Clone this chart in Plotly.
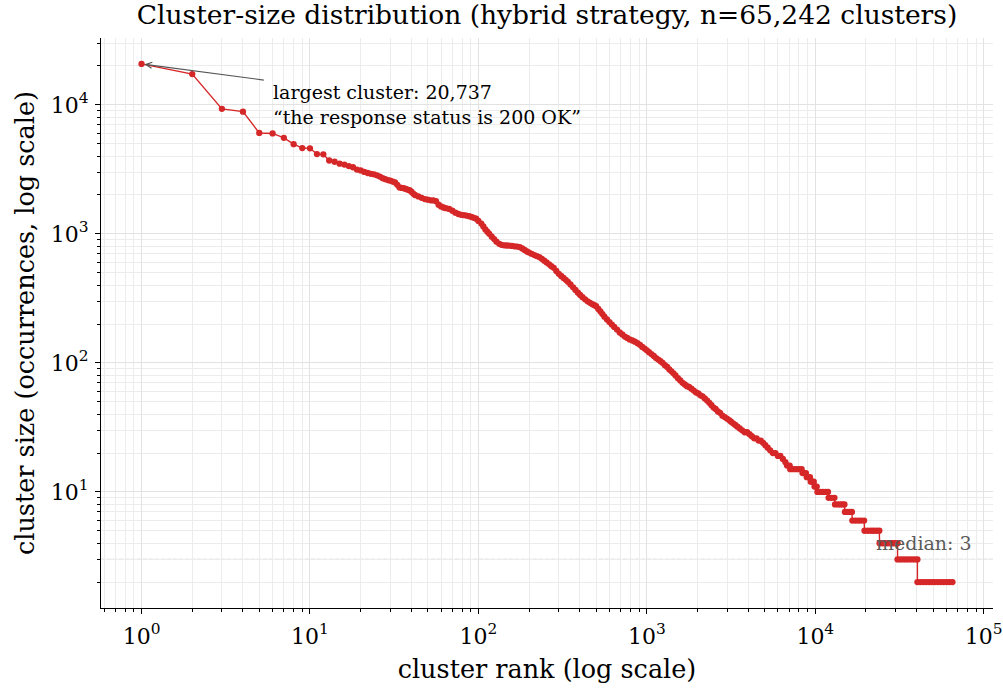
import math
import plotly.graph_objects as go

# ---- data (rank -> cluster size) ----
rank_head = [1, 2, 3, 4, 5, 6, 7, 8, 9, 10, 11, 12, 13, 14, 15, 16]
size_head = [20737, 17300, 9300, 8850, 6050, 6000, 5550, 4950, 4620, 4600,
             4150, 4130, 3700, 3620, 3500, 3440]

rank_body = [17, 18, 19, 20, 21, 22, 23, 24, 25, 26, 27, 28, 29, 30,
             31, 32, 33, 34, 35, 36, 37, 38, 39, 40, 41, 42, 44, 46, 48, 50,
             52, 54, 56, 58, 60, 62, 64, 67, 70, 73, 76, 79, 82, 85, 88, 91,
             94, 97, 100, 104, 107, 110, 113, 116, 120, 124, 128, 133, 137,
             142, 147, 152, 158, 164, 170, 176, 182, 188, 194, 200, 207, 215,
             222, 230, 238, 246, 254, 263, 271, 280, 290, 300, 310, 320, 330,
             340, 352, 365, 377, 390, 402, 415, 430, 445, 460, 475, 488, 500,
             515, 530, 545, 560, 580, 600, 620, 640, 665, 690, 715, 740, 765,
             790, 820, 850, 880, 910, 940, 970, 1000, 1030, 1065, 1100, 1135,
             1170, 1205, 1240, 1280, 1320, 1360, 1400, 1440, 1480, 1530, 1580,
             1630, 1680, 1730, 1780, 1840, 1900, 1960, 2020, 2080, 2140, 2210,
             2280, 2350, 2420, 2490, 2560, 2640, 2720, 2810, 2900, 2990, 3080,
             3160, 3250, 3350, 3450, 3560, 3680, 3810, 3940, 4070, 4200, 4340,
             4480, 4610, 4750, 4900, 5050, 5220, 5400, 5600, 5800, 6000, 6200,
             6420, 6650]
size_body = [3350, 3280, 3150, 3100, 3020, 2960, 2920, 2890, 2840, 2780, 2700,
             2650, 2610, 2580,
             2540, 2500, 2400, 2290, 2270, 2260, 2230, 2200, 2180, 2120, 2050,
             2000, 1950, 1900, 1860, 1840,
             1820, 1815, 1790, 1680, 1630, 1600, 1580, 1560, 1510, 1460, 1425,
             1405, 1395, 1385, 1370, 1350,
             1330, 1310, 1260, 1200, 1140, 1080, 1040, 1000, 950, 910, 870,
             836, 822,
             815, 812, 811, 806, 800, 796, 790, 770, 750, 730, 715, 700, 685,
             672, 660, 640, 620, 600, 580, 562, 545, 515, 490, 472, 455, 440,
             425, 405, 385, 367, 350, 336, 323, 311, 300, 292, 285, 280, 275,
             262, 250, 239, 228, 217, 207, 198, 190, 181, 172, 166, 160, 156,
             152, 149, 146, 142, 138, 133, 129, 125, 121, 117, 113, 109,
             106, 103, 100, 96, 93, 89, 86, 83, 80, 76, 73,
             70, 68, 66, 65, 63, 61, 59, 58, 56, 55, 53,
             51, 49, 47, 45, 44, 42, 41, 39, 38, 37, 36,
             35, 34, 33, 32, 31, 30, 29, 29, 28, 27, 26,
             26, 25, 25, 24, 23, 22, 21, 20, 20, 19, 19,
             18, 17]

rank_tail = [6800, 7050,
             7100, 7400, 7700, 8000, 8300,
             8400, 8600, 8800,
             8900, 9100, 9300,
             9400, 9600, 9800,
             9900, 10050, 10200,
             10300, 10700, 11100, 11500, 11900,
             12000, 12500, 13000,
             13100, 13600, 14100, 14500, 14900,
             15000, 15500, 16000, 16500,
             16600, 17300, 18000, 18700, 19500,
             19600, 20500, 21400, 22200, 23100, 24000,
             24100, 25000, 26000, 27000, 28000, 29000, 30000, 30800,
             30801, 32000, 33300, 34600, 36000, 37500, 39000, 40400,
             40401, 42000, 43700, 45500, 47400, 49300, 51300, 53400, 55600,
             57900, 60300, 62700, 65242]
size_tail = [16, 16,
             15, 15, 15, 15, 15,
             14, 14, 14,
             13, 13, 13,
             12, 12, 12,
             11, 11, 11,
             10, 10, 10, 10, 10,
             9, 9, 9,
             8, 8, 8, 8, 8,
             7, 7, 7, 7,
             6, 6, 6, 6, 6,
             5, 5, 5, 5, 5, 5,
             4, 4, 4, 4, 4, 4, 4, 4,
             3, 3, 3, 3, 3, 3, 3, 3,
             2, 2, 2, 2, 2, 2, 2, 2, 2, 2, 2, 2, 2]

ranks = rank_head + rank_body + rank_tail
sizes = size_head + size_body + size_tail

largest_size = 20737
largest_text = "largest cluster: 20,737<br>“the response status is 200 OK”"
median_size = 3

x_tick_vals = [1, 10, 100, 1000, 10000, 100000]
x_tick_text = ["10<sup>0</sup>", "10<sup>1</sup>", "10<sup>2</sup>",
               "10<sup>3</sup>", "10<sup>4</sup>", "10<sup>5</sup>"]
y_tick_vals = [10, 100, 1000, 10000]
y_tick_text = ["10<sup>1</sup>", "10<sup>2</sup>", "10<sup>3</sup>", "10<sup>4</sup>"]

FONT = "DejaVu Serif"
RED = "#d62728"
GRID = "#e2e2e2"
GRID_MINOR = "#ececec"

minor_vals = [m * 10 ** e for e in range(-1, 6) for m in range(2, 10)]

fig = go.Figure()
fig.add_trace(go.Scatter(
    x=ranks, y=sizes, mode="lines+markers",
    line=dict(color=RED, width=1.4),
    marker=dict(color=RED, size=6.3, line=dict(width=0)),
    showlegend=False, hoverinfo="x+y",
))

fig.add_shape(type="line", xref="paper", x0=0, x1=1, yref="y",
              y0=median_size, y1=median_size,
              line=dict(color="#8a8a8a", width=1, dash="4px,2px"),
              layer="between")

# arrow to the largest cluster (annotation coords are log10 on log axes)
fig.add_annotation(x=math.log10(ranks[0]), y=math.log10(largest_size),
                   xref="x", yref="y", axref="x", ayref="y",
                   ax=0.735, ay=4.19, text="", showarrow=True,
                   arrowhead=5, arrowsize=1.1, arrowwidth=1.1,
                   arrowcolor="#555555", standoff=3)
fig.add_annotation(x=0.770, y=4.20, xref="x", yref="y",
                   text=largest_text, showarrow=False,
                   xanchor="left", yanchor="top", align="left",
                   font=dict(family=FONT, size=19, color="black"))
fig.add_annotation(x=0.979, xref="paper", y=math.log10(median_size), yref="y",
                   text="median: " + str(median_size), showarrow=False,
                   xanchor="right", yanchor="bottom", yshift=3,
                   font=dict(family=FONT, size=19, color="#5a5a5a"))

axis_common = dict(
    type="log", showline=True, linecolor="black", linewidth=1.2, mirror=False,
    ticks="outside", ticklen=5, tickwidth=1, tickcolor="black",
    showgrid=True, gridcolor=GRID, gridwidth=1, zeroline=False,
    automargin=False,
    tickfont=dict(family=FONT, size=22, color="black"),
    minor=dict(tickmode="array", tickvals=minor_vals, ticks="outside",
               ticklen=3, tickwidth=0.8, tickcolor="black",
               showgrid=True, gridcolor=GRID_MINOR, gridwidth=1),
)

fig.update_layout(
    width=1003, height=690,
    margin=dict(l=101, r=10, t=38, b=82, autoexpand=False),
    paper_bgcolor="white", plot_bgcolor="white",
    font=dict(family=FONT, color="black"),
    title=dict(text="Cluster-size distribution (hybrid strategy, n=65,242 clusters)",
               x=0.5, xref="paper", xanchor="center", y=1 - 15 / 690,
               yref="container", yanchor="middle",
               font=dict(family=FONT, size=26.5, color="black")),
    xaxis=dict(axis_common, range=[-0.2407, 5.0552],
               tickmode="array", tickvals=x_tick_vals, ticktext=x_tick_text,
               ticklabelstandoff=3,
               title=dict(text="cluster rank (log scale)", standoff=12,
                          font=dict(family=FONT, size=25.5, color="black"))),
    yaxis=dict(axis_common, range=[0.1003, 4.5177],
               tickmode="array", tickvals=y_tick_vals, ticktext=y_tick_text,
               ticklabelstandoff=2,
               title=dict(text="cluster size (occurrences, log scale)", standoff=8,
                          font=dict(family=FONT, size=25.5, color="black"))),
)

# remove the default page margin so the figure fills the window exactly
fig.write_html("out.html",
               config={"displayModeBar": False},
               post_script="document.body.style.margin='0';"
                           "document.body.style.overflow='hidden';")
